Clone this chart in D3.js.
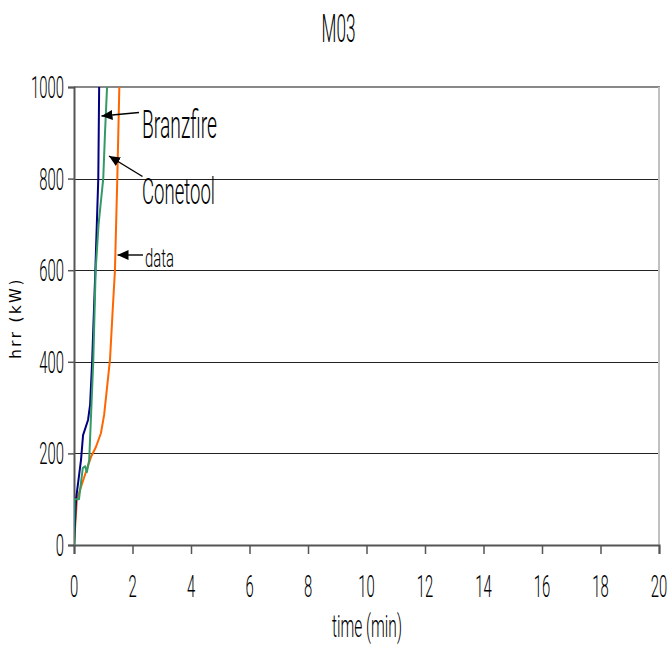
<!DOCTYPE html>
<html><head><meta charset="utf-8">
<script src="https://cdn.jsdelivr.net/npm/d3@7"></script>
<style>body{margin:0;background:#fff}svg{display:block}</style>
</head><body>
<svg id="c" width="670" height="646"></svg>
<script>
// ---- data ----
const title = "M03";
const xTicks = [0,2,4,6,8,10,12,14,16,18,20];
const yTicks = [0,200,400,600,800,1000];
const branzfireT = [0, 0.07, 0.24, 0.31, 0.48, 0.55, 0.62, 0.73, 0.83, 0.86];
const branzfireH = [0, 100, 186, 240, 273, 306, 400, 600, 800, 1000];
const conetoolT = [0, 0.02, 0.17, 0.30, 0.38, 0.44, 0.52, 0.66, 0.74, 0.84, 0.92, 1.0, 1.06, 1.13];
const conetoolH = [0, 100, 100, 168, 172, 159, 186, 404, 600, 700, 750, 800, 900, 1000];
const dataT = [0, 0.1, 0.24, 0.41, 0.58, 0.75, 0.92, 1.03, 1.12, 1.23, 1.31, 1.40, 1.48, 1.55];
const dataH = [0, 100, 127, 160, 192, 214, 244, 284, 338, 404, 498, 600, 800, 1000];
const seriesNames = ["data", "Branzfire", "Conetool"];
const seriesColors = ["#ff6600", "#000080", "#339966"];

const svg = d3.select("#c");
const L = 74, R = 659, T = 87, B = 545;
const x = d3.scaleLinear().domain([0,20]).range([L,R]);
const y = d3.scaleLinear().domain([0,1000]).range([B,T]);
const FONT = "Roboto, 'DejaVu Sans', sans-serif";

function ctext(str, px, py, fs, width, anchor, weight) {
  const g = svg.append("g");
  const t = g.append("text").text(str).attr("font-family", FONT)
    .attr("font-size", fs).attr("font-weight", weight || 300)
    .attr("text-anchor", anchor).attr("fill", "#000");
  const w = t.node().getComputedTextLength();
  const sx = width / w;
  g.attr("transform", `translate(${px},${py}) scale(${sx},1)`);
  return sx;
}

// grid lines
svg.append("g").selectAll("line").data(yTicks.filter(v => v > 0 && v < 1000)).join("line")
  .attr("x1", L).attr("x2", R).attr("y1", d => Math.round(y(d)) + 0.5).attr("y2", d => Math.round(y(d)) + 0.5)
  .attr("stroke", "#222").attr("stroke-width", 1);
// top (1000) line and right border
svg.append("line").attr("x1", L).attr("x2", R + 1).attr("y1", y(1000)).attr("y2", y(1000))
  .attr("stroke", "#888").attr("stroke-width", 2);
svg.append("line").attr("x1", R).attr("x2", R).attr("y1", T).attr("y2", B)
  .attr("stroke", "#c0c0c0").attr("stroke-width", 2);

// axes
const xAxis = d3.axisBottom(x).tickValues(xTicks).tickSize(9).tickFormat("");
const gx = svg.append("g").attr("transform", `translate(0,${B})`).call(xAxis);
gx.select(".domain").attr("stroke", "#555").attr("stroke-width", 2);
gx.selectAll(".tick line").attr("stroke", "#555").attr("stroke-width", 1.5);
const yAxis = d3.axisLeft(y).tickValues(yTicks).tickSize(6).tickFormat("");
const gy = svg.append("g").attr("transform", `translate(${L},0)`).call(yAxis);
gy.select(".domain").attr("stroke", "#555").attr("stroke-width", 2);
gy.selectAll(".tick line").attr("stroke", "#555").attr("stroke-width", 1.5);

// tick labels
const TFS = 31;
const refW = 33;
const tmp = svg.append("text").text("1000").attr("font-family", FONT).attr("font-size", TFS).attr("font-weight", 300);
const sxTick = refW / tmp.node().getComputedTextLength();
tmp.remove();
yTicks.forEach(v => {
  const g = svg.append("g").attr("transform", `translate(64,${y(v) + 11}) scale(${sxTick},1)`);
  g.append("text").text(v).attr("font-family", FONT).attr("font-size", TFS).attr("font-weight", 300).attr("text-anchor", "end");
});
xTicks.forEach(v => {
  const g = svg.append("g").attr("transform", `translate(${x(v)},597) scale(${sxTick},1)`);
  g.append("text").text(v).attr("font-family", FONT).attr("font-size", TFS).attr("font-weight", 300).attr("text-anchor", "middle");
});

// lines
const clip = svg.append("clipPath").attr("id", "clip").append("rect")
  .attr("x", L).attr("y", T - 1).attr("width", R - L).attr("height", B - T + 2);
const seriesT = [dataT, branzfireT, conetoolT];
const seriesH = [dataH, branzfireH, conetoolH];
const line = d3.line().x(d => x(d[0])).y(d => y(d[1]));
seriesNames.forEach((n, i) => {
  const pts = seriesT[i].map((t, j) => [t, seriesH[i][j]]);
  svg.append("path").datum(pts).attr("d", line).attr("fill", "none")
    .attr("stroke", seriesColors[i]).attr("stroke-width", 2).attr("stroke-linejoin", "round")
    .attr("clip-path", "url(#clip)");
});

// arrows
svg.append("defs").append("marker").attr("id", "ah").attr("viewBox", "0 0 10 10")
  .attr("refX", 10).attr("refY", 5).attr("markerWidth", 11).attr("markerHeight", 11)
  .attr("markerUnits", "userSpaceOnUse").attr("orient", "auto")
  .append("path").attr("d", "M0,0.5 L10,5 L0,9.5 Z").attr("fill", "#000");
const arrows = [[139, 112.5, 101.5, 116], [142.5, 176.5, 109, 156], [143, 255, 117.5, 255]];
arrows.forEach(a => {
  svg.append("line").attr("x1", a[0]).attr("y1", a[1]).attr("x2", a[2]).attr("y2", a[3])
    .attr("stroke", "#000").attr("stroke-width", 1.4).attr("marker-end", "url(#ah)");
});

// labels
ctext("Branzfire", 142, 138, 38, 75, "start");
ctext("Conetool", 142, 204, 37, 73, "start");
ctext("data", 145, 267, 26, 29, "start");

// title and axis titles
ctext(title, 338.5, 42, 39, 34, "middle");
ctext("time (min)", 367, 637, 31, 70, "middle");
svg.append("text").text("hrr (kW)").attr("transform", "translate(21,318) rotate(-90)")
  .attr("font-family", "'DejaVu Sans', sans-serif").attr("font-size", 15).attr("letter-spacing", 2.5)
  .attr("text-anchor", "middle").attr("fill", "#000");
</script>
</body></html>
